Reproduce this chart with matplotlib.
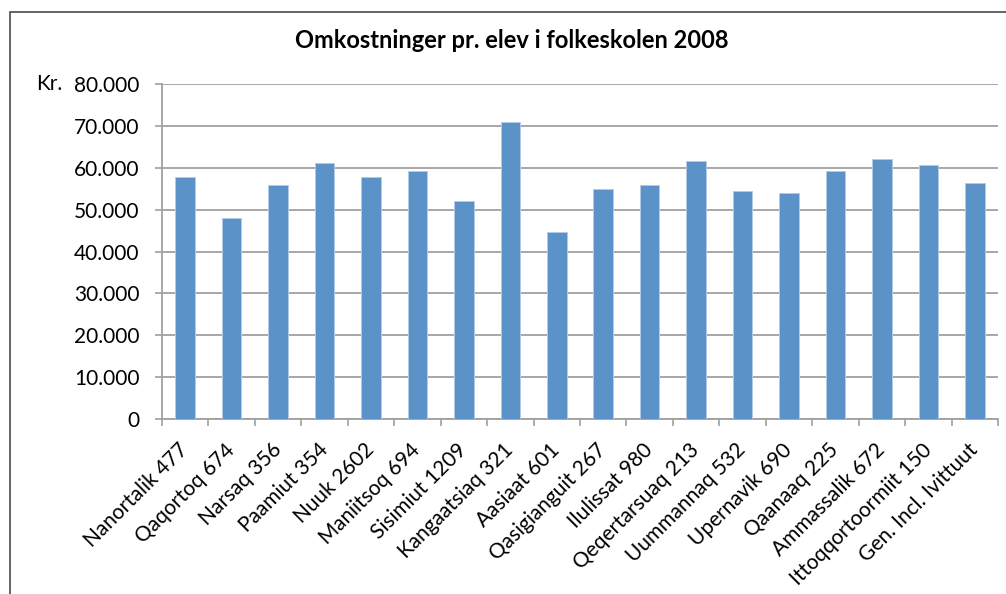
#!/usr/bin/env python3
"""Omkostninger pr. elev i folkeskolen 2008 - bar chart."""

import matplotlib
matplotlib.use('Agg')
import matplotlib.pyplot as plt
import matplotlib.patches as mpatches
import matplotlib.transforms as mtransforms
from matplotlib.ticker import FuncFormatter, FixedLocator

plt.rcParams['font.family'] = ['Lato', 'DejaVu Sans']

# Data
kommuner = ['Nanortalik 477', 'Qaqortoq 674', 'Narsaq 356', 'Paamiut 354',
            'Nuuk 2602', 'Maniitsoq 694', 'Sisimiut 1209', 'Kangaatsiaq 321',
            'Aasiaat 601', 'Qasigianguit 267', 'Ilulissat 980', 'Qeqertarsuaq 213',
            'Uummannaq 532', 'Upernavik 690', 'Qaanaaq 225', 'Ammassalik 672',
            'Ittoqqortoormiit 150', 'Gen. Incl. Ivittuut']
omkostninger = [57800, 47900, 55900, 61100, 57800, 59300, 52100, 71000,
                44700, 54900, 55900, 61600, 54500, 54000, 59300, 62100,
                60600, 56400]

title = 'Omkostninger pr. elev i folkeskolen 2008'
bar_color = '#5b93c8'
grid_color = '#a0a0a0'


def thousands(v, pos):
    if v == 0:
        return '0'
    return f'{v:,.0f}'.replace(',', '.')


fig = plt.figure(figsize=(10.06, 5.94), dpi=100)
ax = fig.add_axes([162 / 1006, 1 - 419 / 594, (998 - 162) / 1006, (419 - 84) / 594])

x = list(range(len(kommuner)))
ax.bar(x, omkostninger, width=0.42, color=bar_color, edgecolor='#b3cbe6',
       linewidth=0.7, zorder=3)

ax.set_xlim(-0.5, len(kommuner) - 0.5)
ax.set_ylim(0, 80000)
ax.set_yticks(range(0, 80001, 10000))
ax.yaxis.set_major_formatter(FuncFormatter(thousands))
ax.grid(axis='y', color=grid_color, linewidth=1.3, zorder=0)

ax.set_xticks(x)
ax.set_xticklabels(kommuner, rotation=45, ha='right', va='center',
                   rotation_mode='anchor')
ax.xaxis.set_minor_locator(FixedLocator([i - 0.5 for i in range(len(kommuner) + 1)]))
ax.tick_params(axis='x', which='major', length=0, pad=20, labelsize=15)
ax.tick_params(axis='x', which='minor', length=5, width=1.2, color=grid_color)
ax.tick_params(axis='y', length=5, width=1.2, color=grid_color, pad=11,
               labelsize=15)

for side in ('top', 'right'):
    ax.spines[side].set_visible(False)
for side in ('left', 'bottom'):
    ax.spines[side].set_color(grid_color)
    ax.spines[side].set_linewidth(1.3)

# "Kr." unit in front of the top tick label
trans = mtransforms.blended_transform_factory(fig.transFigure, ax.transData)
ax.text(36 / 1006, 80000, 'Kr.', transform=trans, ha='left', va='center',
        fontsize=15)

fig.text(512 / 1006, 1 - 41 / 594, title, ha='center', va='center',
         fontsize=17, fontweight='bold')

# chart area frame (runs off the right and bottom edges)
fig.patches.append(mpatches.Rectangle((10 / 1006, -0.2), 1.2, 1.2 - 12 / 594,
                                      transform=fig.transFigure, fill=False,
                                      edgecolor='#595959', linewidth=1.3))

fig.savefig('out.png', dpi=100)
